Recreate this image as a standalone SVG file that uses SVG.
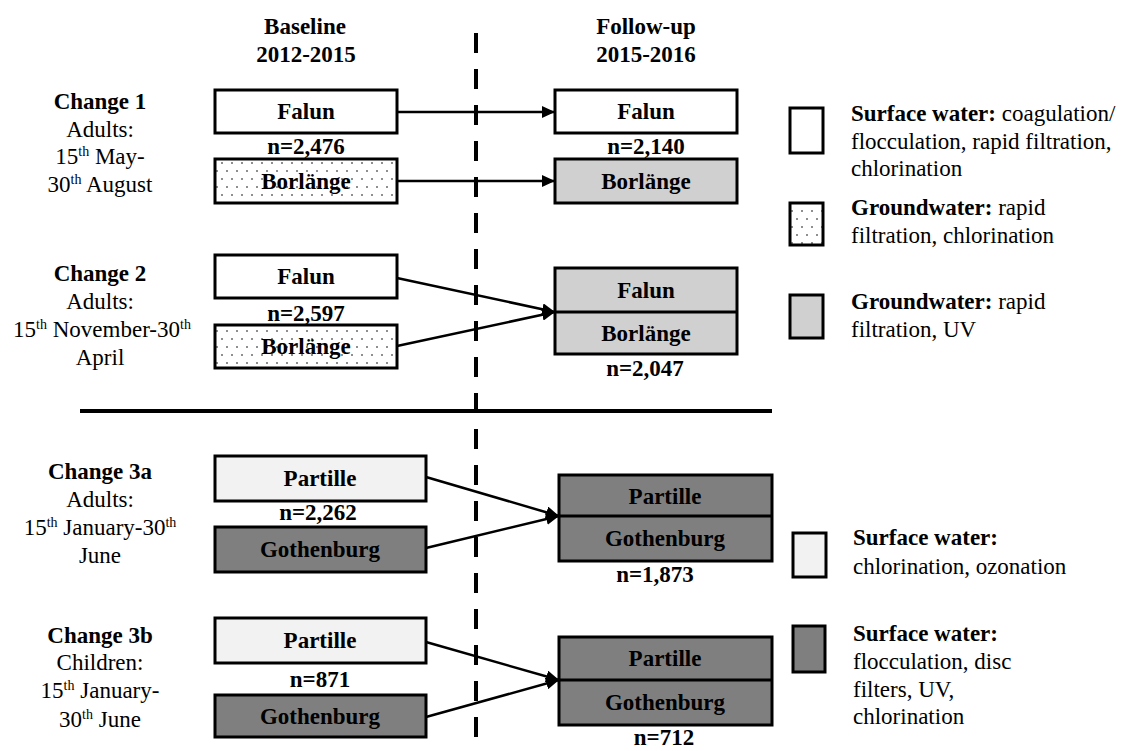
<svg xmlns="http://www.w3.org/2000/svg" width="1122" height="751" viewBox="0 0 1122 751">
<defs>
<style>
text{font-family:'Liberation Serif','Tinos','DejaVu Serif','Noto Serif',serif;font-size:23px;fill:#000}
.b{font-weight:bold}
.c{text-anchor:middle}
.box{stroke:#000;stroke-width:3}
.white{fill:#fff}
.lg{fill:#d0d0d0}
.vl{fill:#f2f2f2}
.dk{fill:#7f7f7f}
.dot{fill:url(#dots)}
.conn{stroke:#000;stroke-width:2.5;fill:none;marker-end:url(#ah)}
.sup{font-size:14px}
</style>
<pattern id="dots" width="10" height="16" patternUnits="userSpaceOnUse"><rect width="10" height="16" fill="#fff"/><circle cx="2" cy="3" r="0.8" fill="#000"/><circle cx="7" cy="11" r="0.8" fill="#000"/></pattern>
<marker id="ah" markerWidth="14" markerHeight="12" refX="13" refY="6" orient="auto" markerUnits="userSpaceOnUse"><path d="M0,0 L13,6 L0,12 Z" fill="#000"/></marker>
</defs>
<rect width="1122" height="751" fill="#fff"/>
<g font-family="Liberation Serif, DejaVu Serif, serif">
<g id="headers">
<text class="b c" x="305" y="34">Baseline</text>
<text class="b c" x="306" y="62">2012-2015</text>
<text class="b c" x="646" y="34">Follow-up</text>
<text class="b c" x="646" y="62">2015-2016</text>
</g>

<g id="dividers">
<line x1="476" y1="33" x2="476" y2="751" stroke="#000" stroke-width="4" stroke-dasharray="20,16"/>
<line x1="80" y1="411" x2="772" y2="411" stroke="#000" stroke-width="4"/>
</g>

<g id="label-change1">
<text class="b c" x="100" y="109">Change 1</text>
<text class="c" x="100" y="137">Adults:</text>
<text class="c" x="100" y="164">15<tspan class="sup" dy="-8">th</tspan><tspan dy="8"> May-</tspan></text>
<text class="c" x="100" y="192">30<tspan class="sup" dy="-8">th</tspan><tspan dy="8"> August</tspan></text>
</g>
<g id="label-change2">
<text class="b c" x="100" y="281">Change 2</text>
<text class="c" x="100" y="309">Adults:</text>
<text class="c" x="102" y="337">15<tspan class="sup" dy="-8">th</tspan><tspan dy="8"> November-30</tspan><tspan class="sup" dy="-8">th</tspan></text>
<text class="c" x="100" y="365">April</text>
</g>
<g id="label-change3a">
<text class="b c" x="100" y="479">Change 3a</text>
<text class="c" x="100" y="507">Adults:</text>
<text class="c" x="100" y="535">15<tspan class="sup" dy="-8">th</tspan><tspan dy="8"> January-30</tspan><tspan class="sup" dy="-8">th</tspan></text>
<text class="c" x="100" y="563">June</text>
</g>
<g id="label-change3b">
<text class="b c" x="100" y="643">Change 3b</text>
<text class="c" x="100" y="670">Children:</text>
<text class="c" x="100" y="698">15<tspan class="sup" dy="-8">th</tspan><tspan dy="8"> January-</tspan></text>
<text class="c" x="100" y="727">30<tspan class="sup" dy="-8">th</tspan><tspan dy="8"> June</tspan></text>
</g>

<g id="connectors">
<line class="conn" x1="397" y1="112" x2="555" y2="112"/>
<line class="conn" x1="397" y1="181" x2="555" y2="181"/>
<line class="conn" x1="397" y1="278" x2="555" y2="312"/>
<line class="conn" x1="397" y1="346" x2="555" y2="312"/>
<line class="conn" x1="426" y1="477" x2="559" y2="516"/>
<line class="conn" x1="426" y1="548" x2="559" y2="516"/>
<line class="conn" x1="426" y1="642" x2="559" y2="680"/>
<line class="conn" x1="426" y1="717" x2="559" y2="680"/>
</g>

<g id="c1-base-falun">
<rect class="box white" x="215" y="90" width="182" height="43"/>
<text class="b c" x="306" y="119">Falun</text>
</g>
<text id="c1-base-n" class="b c" x="306" y="154">n=2,476</text>
<g id="c1-base-borlange">
<rect class="box dot" x="215" y="159" width="182" height="44"/>
<text class="b c" x="306" y="189">Borlänge</text>
</g>
<g id="c1-fu-falun">
<rect class="box white" x="555" y="90" width="182" height="43"/>
<text class="b c" x="646" y="119">Falun</text>
</g>
<text id="c1-fu-n" class="b c" x="646" y="154">n=2,140</text>
<g id="c1-fu-borlange">
<rect class="box lg" x="555" y="159" width="182" height="44"/>
<text class="b c" x="646" y="189">Borlänge</text>
</g>

<g id="c2-base-falun">
<rect class="box white" x="215" y="255" width="182" height="43"/>
<text class="b c" x="306" y="284">Falun</text>
</g>
<text id="c2-base-n" class="b c" x="306" y="321">n=2,597</text>
<g id="c2-base-borlange">
<rect class="box dot" x="215" y="325" width="182" height="43"/>
<text class="b c" x="306" y="354">Borlänge</text>
</g>
<g id="c2-fu">
<rect class="box lg" x="555" y="268" width="182" height="86"/>
<line x1="555" y1="312" x2="737" y2="312" stroke="#000" stroke-width="3"/>
<text class="b c" x="646" y="298">Falun</text>
<text class="b c" x="646" y="341">Borlänge</text>
<text class="b c" x="645" y="376">n=2,047</text>
</g>

<g id="c3a-base-partille">
<rect class="box vl" x="215" y="456" width="211" height="45"/>
<text class="b c" x="320" y="486">Partille</text>
</g>
<text id="c3a-base-n" class="b c" x="318" y="520">n=2,262</text>
<g id="c3a-base-gothenburg">
<rect class="box dk" x="215" y="527" width="211" height="45"/>
<text class="b c" x="320" y="557">Gothenburg</text>
</g>
<g id="c3a-fu">
<rect class="box dk" x="559" y="475" width="213" height="86"/>
<line x1="559" y1="516" x2="772" y2="516" stroke="#000" stroke-width="3"/>
<text class="b c" x="665" y="504">Partille</text>
<text class="b c" x="665" y="546">Gothenburg</text>
<text class="b c" x="655" y="582">n=1,873</text>
</g>

<g id="c3b-base-partille">
<rect class="box vl" x="215" y="618" width="211" height="45"/>
<text class="b c" x="320" y="648">Partille</text>
</g>
<text id="c3b-base-n" class="b c" x="320" y="687">n=871</text>
<g id="c3b-base-gothenburg">
<rect class="box dk" x="215" y="695" width="211" height="42"/>
<text class="b c" x="320" y="724">Gothenburg</text>
</g>
<g id="c3b-fu">
<rect class="box dk" x="559" y="637" width="213" height="88"/>
<line x1="559" y1="680" x2="772" y2="680" stroke="#000" stroke-width="3"/>
<text class="b c" x="665" y="666">Partille</text>
<text class="b c" x="665" y="710">Gothenburg</text>
<text class="b c" x="664" y="745">n=712</text>
</g>

<g id="legend-surface1">
<rect class="box white" x="790" y="108" width="33" height="45"/>
<text x="851" y="121"><tspan class="b">Surface water:</tspan> coagulation/</text>
<text x="851" y="149">flocculation, rapid filtration,</text>
<text x="851" y="176">chlorination</text>
</g>
<g id="legend-ground1">
<rect class="box dot" x="790" y="203" width="33" height="42"/>
<text x="851" y="215"><tspan class="b">Groundwater:</tspan> rapid</text>
<text x="851" y="243">filtration, chlorination</text>
</g>
<g id="legend-ground2">
<rect class="box lg" x="790" y="295" width="33" height="43"/>
<text x="851" y="309"><tspan class="b">Groundwater:</tspan> rapid</text>
<text x="851" y="337">filtration, UV</text>
</g>
<g id="legend-surface2">
<rect class="box vl" x="793" y="533" width="33" height="44"/>
<text x="853" y="545"><tspan class="b">Surface water:</tspan></text>
<text x="853" y="574">chlorination, ozonation</text>
</g>
<g id="legend-surface3">
<rect class="box dk" x="793" y="626" width="32" height="46"/>
<text x="853" y="641"><tspan class="b">Surface water:</tspan></text>
<text x="853" y="669">flocculation, disc</text>
<text x="853" y="697">filters, UV,</text>
<text x="853" y="724">chlorination</text>
</g>
</g>
</svg>
